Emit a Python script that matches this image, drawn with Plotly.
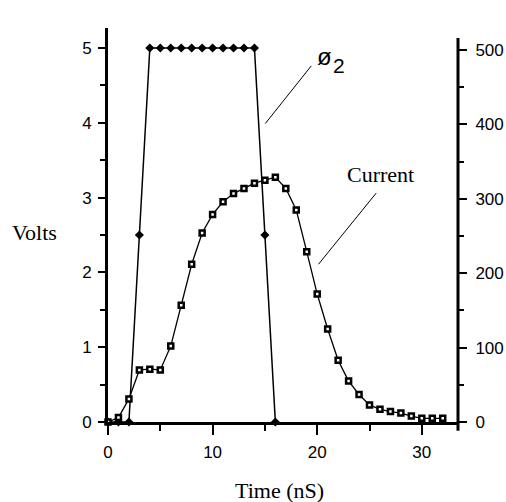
import plotly.graph_objects as go

# Data
phi2_time = [0, 1, 2, 3, 4, 5, 6, 7, 8, 9, 10, 11, 12, 13, 14, 15, 16]
phi2_volts = [0, 0, 0, 2.5, 5, 5, 5, 5, 5, 5, 5, 5, 5, 5, 5, 2.5, 0]

current_time = [0, 1, 2, 3, 4, 5, 6, 7, 8, 9, 10, 11, 12, 13, 14, 15, 16,
                17, 18, 19, 20, 21, 22, 23, 24, 25, 26, 27, 28, 29, 30, 31, 32]
current_vals = [0, 6, 31, 70, 71, 70, 102, 157, 212, 254, 279, 296, 307, 314, 321, 325, 329,
                314, 285, 229, 172, 125, 83, 55, 37, 23, 17, 14, 12, 8, 5, 5, 5]

x_ticks = [0, 10, 20, 30]
y_ticks = [0, 1, 2, 3, 4, 5]
y2_ticks = [0, 100, 200, 300, 400, 500]

TICKFONT = dict(family="Liberation Sans", size=17, color="black")
SERIF = "Liberation Serif"

W, H = 506, 502
L, T, PW, PH = 108, 28, 350.5, 394


def px(xpage):
    return (xpage - L) / PW


def py(ypage):
    return (T + PH - ypage) / PH


fig = go.Figure()
fig.add_trace(go.Scatter(
    x=phi2_time, y=phi2_volts, mode="lines+markers",
    line=dict(color="black", width=1.5),
    marker=dict(symbol="diamond", size=7, color="black"),
    cliponaxis=False, showlegend=False, hoverinfo="skip"))
fig.add_trace(go.Scatter(
    x=current_time, y=current_vals, mode="lines+markers", yaxis="y2",
    line=dict(color="black", width=1.3),
    marker=dict(symbol="square", size=5, color="white",
                line=dict(color="black", width=2.5)),
    cliponaxis=False, showlegend=False, hoverinfo="skip"))

fig.update_layout(
    width=W, height=H,
    margin=dict(l=L, r=W - L - PW, t=T, b=H - T - PH, autoexpand=False),
    paper_bgcolor="white", plot_bgcolor="white",
    xaxis=dict(range=[0, 33.46], tickvals=x_ticks, ticks="outside", ticklen=10,
               tickwidth=2, tickcolor="black", showline=True, linewidth=3,
               linecolor="black", showgrid=False, zeroline=False,
               tickfont=TICKFONT, ticklabelstandoff=3,
               minor=dict(dtick=5, tick0=0, ticks="outside", ticklen=6,
                          tickwidth=2, tickcolor="black", showgrid=False)),
    yaxis=dict(range=[0, 5.267], tickvals=y_ticks, ticks="outside", ticklen=7,
               tickwidth=2, tickcolor="black", showline=True, linewidth=3,
               linecolor="black", showgrid=False, zeroline=False,
               tickfont=TICKFONT, ticklabelstandoff=3,
               minor=dict(dtick=0.5, tick0=0, ticks="outside", ticklen=5,
                          tickwidth=2, tickcolor="black", showgrid=False)),
    yaxis2=dict(range=[0, 529.6], overlaying="y", side="right", tickvals=y2_ticks,
                ticks="outside", ticklen=8, tickwidth=2, tickcolor="black",
                showline=False, showgrid=False, zeroline=False,
                tickfont=TICKFONT, ticklabelstandoff=5,
                minor=dict(dtick=50, tick0=0, ticks="outside", ticklen=5,
                           tickwidth=2, tickcolor="black", showgrid=False)),
)

# right axis line
fig.add_shape(type="line", xref="paper", yref="paper", x0=1, x1=1,
              y0=-0.022, y1=516 / 529.6, line=dict(color="black", width=3))

# leader lines
fig.add_shape(type="line", xref="x", yref="y", x0=19.43, y0=4.76, x1=15.04, y1=3.99,
              line=dict(color="black", width=1))
fig.add_shape(type="line", xref="x", yref="y", x0=25.64, y0=3.06, x1=20.13, y1=2.11,
              line=dict(color="black", width=1))


def label(text, xp, yp, family, size):
    fig.add_annotation(text=text, xref="paper", yref="paper", x=px(xp), y=py(yp),
                       xanchor="center", yanchor="middle", showarrow=False,
                       font=dict(family=family, size=size, color="black"))


label("ø", 325, 56, "Liberation Sans", 24)
label("2", 339, 65, "Liberation Sans", 21)
label("Current", 381, 175, SERIF, 22)
label("Volts", 34, 232, SERIF, 22)
label("Time (nS)", 280, 490, SERIF, 22)

fig.write_html(
    "out.html",
    config={"displayModeBar": False},
    post_script="document.body.style.margin='0';document.body.style.overflow='hidden';",
)
